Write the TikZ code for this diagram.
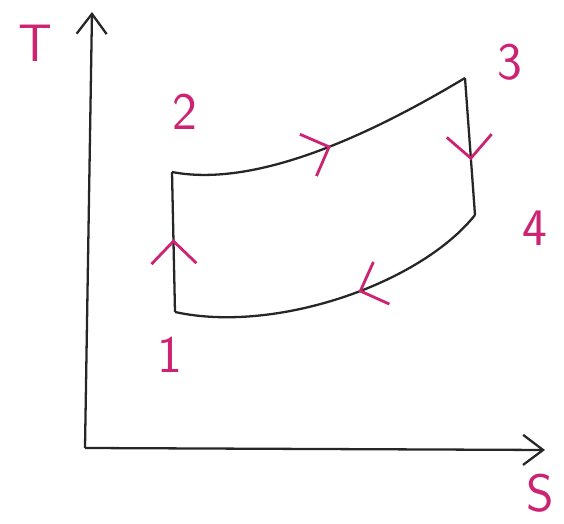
\documentclass[tikz,border=0pt]{standalone}
\usetikzlibrary{arrows.meta,decorations.markings}
\definecolor{pen}{RGB}{205,35,115}
\begin{document}
\begin{tikzpicture}[
    axis/.style={-{Straight Barb[length=4mm,width=6mm]}, line width=1.3pt, black!85},
    path/.style={line width=1.3pt, black!85},
    chevron/.style={postaction={decorate}, decoration={markings,
        mark=at position #1 with {\arrow[pen, line width=1.6pt]{Straight Barb[length=4.5mm,width=9mm]}}}},
    num/.style={text=pen, inner sep=1pt, font=\sffamily\fontsize{30}{36}\selectfont}
]
    \useasboundingbox (0,0) rectangle (11.28,10.48);

    % Axes
    \coordinate (O) at (1.70,1.52);
    \coordinate (Ttop) at (1.84,10.24);
    \coordinate (Send) at (10.90,1.48);
    \draw[axis] (O) -- (Ttop);
    \draw[axis] (O) -- (Send);
    \node[num] (Tlab) at (0.70,9.62) {T};
    \node[num] (Slab) at (10.80,0.62) {S};

    % States
    \coordinate (p1) at (3.50,4.24);
    \coordinate (p2) at (3.44,7.04);
    \coordinate (p3) at (9.30,8.92);
    \coordinate (p4) at (9.50,6.18);
    \node[num] (n1) at (3.40,3.38) {1};
    \node[num] (n2) at (3.70,8.24) {2};
    \node[num] (n3) at (10.20,9.24) {3};
    \node[num] (n4) at (10.70,5.92) {4};

    % Processes
    \draw[path, chevron=0.52] (p1) -- (p2);
    \draw[path, chevron=0.52] (p2) .. controls (5.2,6.7) and (7.6,7.9) .. (p3);
    \draw[path, chevron=0.6] (p3) -- (p4);
    \draw[path, chevron=0.43] (p4) .. controls (8.4,4.8) and (5.5,3.8) .. (p1);
\end{tikzpicture}
\end{document}
